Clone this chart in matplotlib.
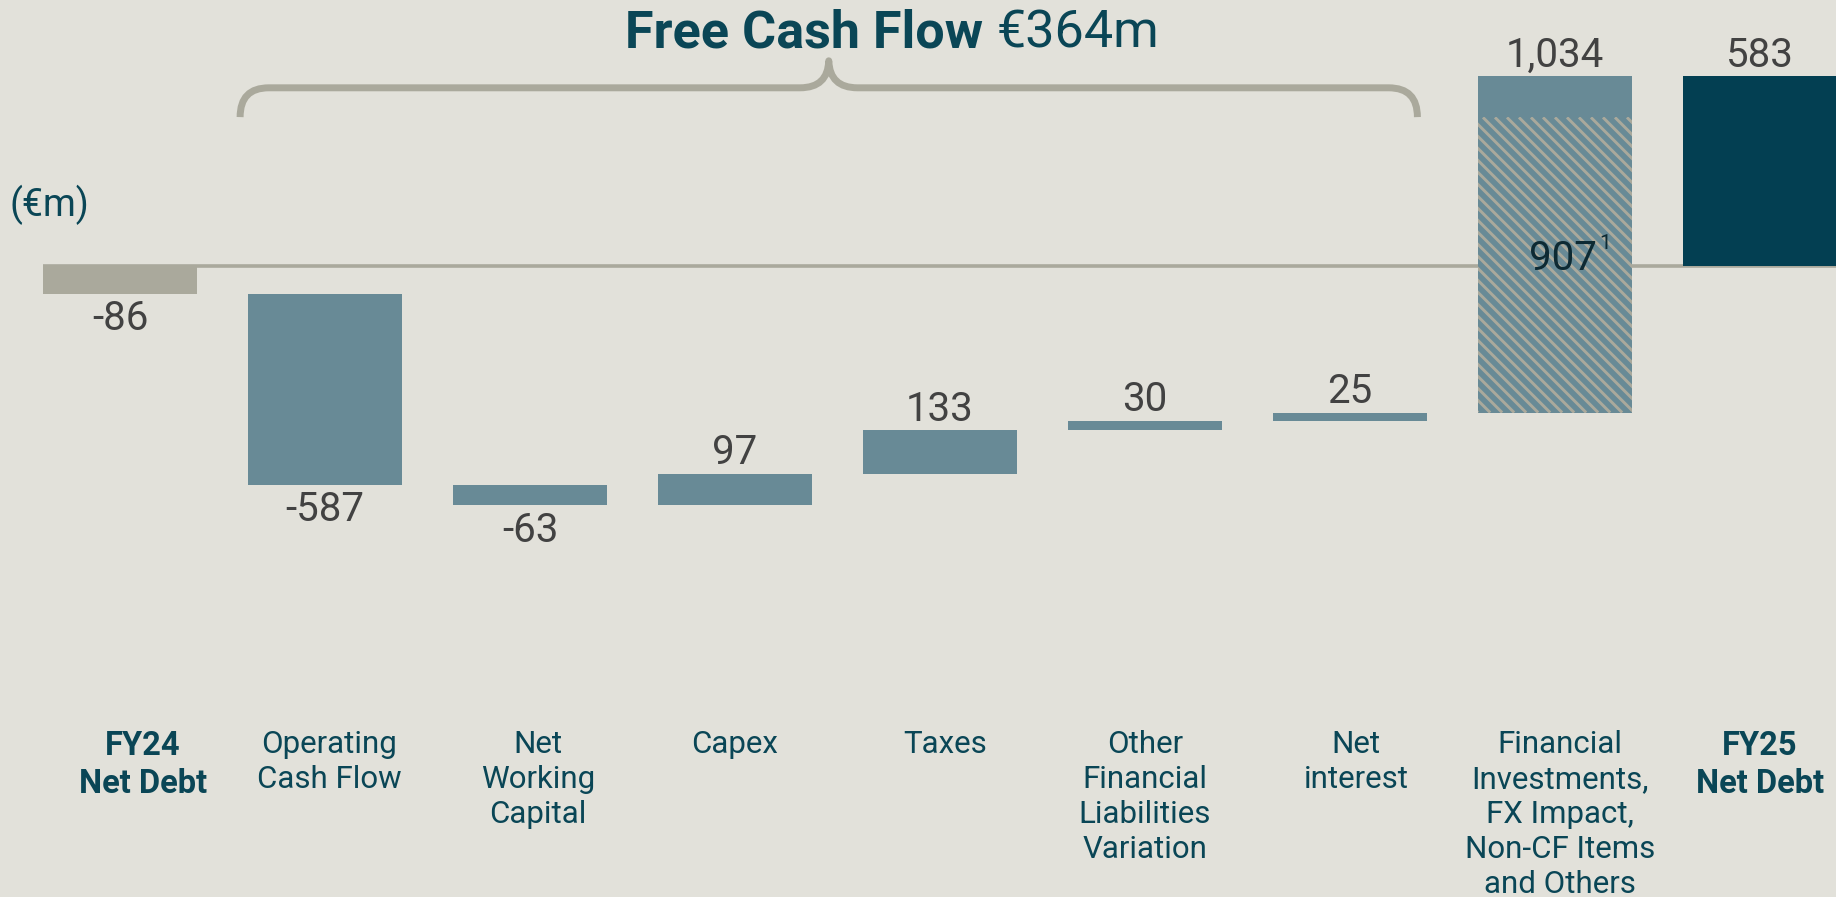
import matplotlib
matplotlib.use("Agg")
import matplotlib.pyplot as plt
from matplotlib.path import Path
from matplotlib.patches import PathPatch
from matplotlib.lines import Line2D
from matplotlib.transforms import blended_transform_factory, IdentityTransform
import numpy as np

# ---- data -------------------------------------------------------------
categories = [
    "FY24\nNet Debt",
    "Operating\nCash Flow",
    "Net\nWorking\nCapital",
    "Capex",
    "Taxes",
    "Other\nFinancial\nLiabilities\nVariation",
    "Net\ninterest",
    "Financial\nInvestments,\nFX Impact,\nNon-CF Items\nand Others",
    "FY25\nNet Debt",
]
values = [-86, -587, -63, 97, 133, 30, 25, 1034, 583]
is_total = [True, False, False, False, False, False, False, False, True]
fi_non_cash = 907          # hatched share of the "Financial Investments" step
fcf_steps = 6              # Operating Cash Flow .. Net interest
fcf_amount = "€364m"
unit_label = "(€m)"

# ---- style --------------------------------------------------------------
BG = "#e2e1da"
GREY = "#aaa99c"
STEEL = "#688a96"
NAVY = "#033f52"
TEAL_TXT = "#0a4656"
VAL_TXT = "#424242"

plt.rcParams["font.family"] = ["Roboto", "DejaVu Sans"]

fig = plt.figure(figsize=(18.36, 8.97), dpi=100, facecolor=BG)
ax = fig.add_axes([0, 0, 1, 1])
ax.set_facecolor(BG)
ax.set_xlim(-0.5857, 8.3714)
ax.set_ylim(-1939.5, 816.8)
ax.axis("off")

x = np.arange(len(values))
width = 0.7486

# ---- waterfall geometry ----------------------------------------------------
bottoms, heights = [], []
running = 0
for v, tot in zip(values, is_total):
    if tot:
        bottoms.append(0)
        heights.append(v)
        running = v
    else:
        bottoms.append(running)
        heights.append(v)
        running += v

colors = [GREY] + [STEEL] * 7 + [NAVY]

# zero line
ax.plot([x[0] - width / 2, ax.get_xlim()[1]], [0, 0], color=GREY, lw=2.6,
        zorder=1, solid_capstyle="butt")

hatched = None
for i in range(len(values)):
    if i == 7:
        # solid cap part then striped non-cash part
        ax.bar(x[i], heights[i], bottom=bottoms[i], width=width,
               color=STEEL, linewidth=0, zorder=2)
        hatched = ax.bar(x[i], fi_non_cash, bottom=bottoms[i], width=width,
                         color=STEEL, linewidth=0, zorder=3)[0]
    else:
        ax.bar(x[i], heights[i], bottom=bottoms[i], width=width,
               color=colors[i], linewidth=0, zorder=2)

# diagonal stripes inside the non-cash part (drawn in pixel space, clipped)
fig.canvas.draw()
hb = hatched.get_window_extent()
step = 12.0
h = hb.height
for c in np.arange(hb.x0 - h - step, hb.x1 + step, step):
    ln = Line2D([c, c + h], [hb.y1, hb.y0], color=GREY, lw=2.1,
                transform=IdentityTransform(), zorder=3.5,
                solid_capstyle="butt")
    ax.add_line(ln)
    ln.set_clip_path(hatched)

# ---- value labels ----------------------------------------------------------
for i, v in enumerate(values):
    top = bottoms[i] + heights[i]
    off = -18 if v < 0 else 15
    ax.annotate(f"{v:,}", (x[i], top), xytext=(0, off), textcoords="offset points",
                ha="center", va="center", fontsize=29, color=VAL_TXT,
                fontweight="normal")

# label inside hatched part
mid = bottoms[7] + fi_non_cash / 2
t907 = ax.annotate(f"{fi_non_cash}", (x[7], mid), xytext=(6, 5),
                   textcoords="offset points", ha="center", va="center",
                   fontsize=29, color="#0d2a33", zorder=5)

# ---- category labels -------------------------------------------------------
btrans = blended_transform_factory(ax.transData, ax.transAxes)
label_shift = [0.11, 0.02, 0.04, 0, 0.025, 0, 0.03, 0.025, 0]
for i, c in enumerate(categories):
    bold = is_total[i]
    ax.text(x[i] + label_shift[i], 0.186, c, transform=btrans, ha="center",
            va="top", fontsize=23.5 if bold else 22.5, color=TEAL_TXT,
            linespacing=1.24 if bold else 1.26,
            fontweight="bold" if bold else "normal")

fig.text(10 / 1836, 1 - 205 / 897, unit_label, ha="left", va="center",
         fontsize=27, color=TEAL_TXT)

# ---- brace over the free-cash-flow steps -----------------------------------
x0 = x[1] - width / 2 - 0.04
x1 = x[fcf_steps] + width / 2 - 0.045
xm = (x0 + x1) / 2
y_end, y_h, y_tip = 457, 547, 630
dx = 0.14
verts = [
    (x0, y_end), (x0, y_h), (x0 + dx, y_h),
    (xm - dx, y_h), (xm - 0.005, y_h), (xm, y_tip),
    (xm + 0.005, y_h), (xm + dx, y_h),
    (x1 - dx, y_h), (x1, y_h), (x1, y_end),
]
codes = [Path.MOVETO, Path.CURVE3, Path.CURVE3,
         Path.LINETO, Path.CURVE3, Path.CURVE3,
         Path.CURVE3, Path.CURVE3,
         Path.LINETO, Path.CURVE3, Path.CURVE3]
ax.add_patch(PathPatch(Path(verts, codes), facecolor="none", edgecolor=GREY,
                       lw=5, joinstyle="round", capstyle="butt", zorder=4))

# ---- title (bold + regular parts) -----------------------------------------
fig.canvas.draw()
r = fig.canvas.get_renderer()
title_y = 1 - 33 / 897
tb = fig.text(0, title_y, "Free Cash Flow ", fontsize=37.5, fontweight="bold",
              color=TEAL_TXT, ha="left", va="center")
tr = fig.text(0, title_y, fcf_amount, fontsize=37.5, color=TEAL_TXT,
              ha="left", va="center")
wb = tb.get_window_extent(r).width
wr = tr.get_window_extent(r).width
cx = ax.transData.transform((xm + 0.31, 0))[0]
left_px = cx - (wb + wr) / 2
tb.set_x(left_px / fig.bbox.width)
tr.set_x((left_px + wb) / fig.bbox.width)

# footnote marker next to the 907 label
bb = t907.get_window_extent(r)
fig.text((bb.x1 + 2) / fig.bbox.width, (bb.y1 - 5) / fig.bbox.height, "1",
         fontsize=15, color="#0d2a33", ha="left", va="center", zorder=6)

fig.savefig("out.png", dpi=100, facecolor=BG)
